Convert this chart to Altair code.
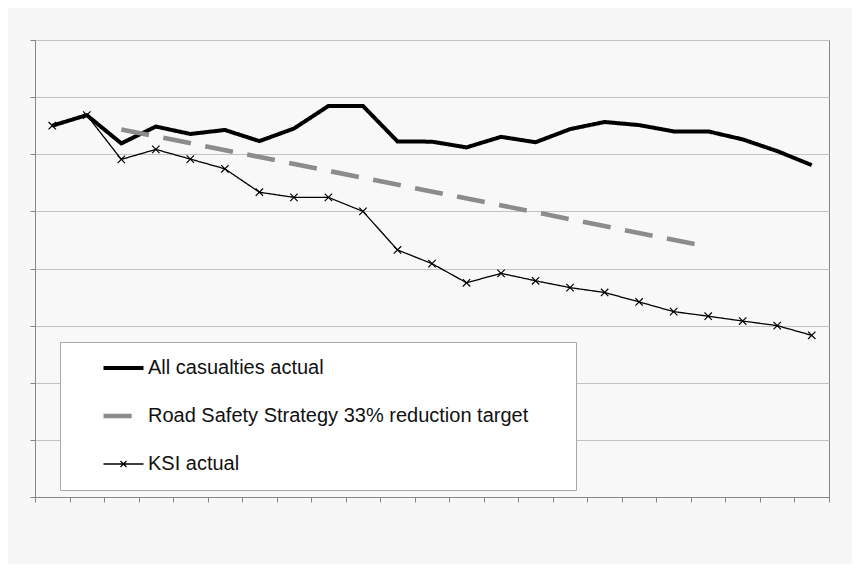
import altair as alt
import pandas as pd

periods = list(range(1, 24))
all_casualties = [130.0, 133.7, 123.8, 129.7, 127.1, 128.5, 124.6, 129.0, 136.9, 136.9,
                  124.5, 124.4, 122.4, 126.1, 124.2, 128.8, 131.3, 130.2, 128.0, 128.0,
                  125.2, 121.1, 116.2]
ksi_actual = [130.0, 133.7, 118.2, 121.7, 118.3, 114.9, 106.7, 104.9, 104.9, 100.0,
              86.5, 81.7, 75.0, 78.3, 75.7, 73.3, 71.6, 68.3, 64.9, 63.3,
              61.6, 60.0, 56.6]
target_periods = [3, 20]
target_values = [128.7, 87.6]

series_names = ["All casualties actual",
                "Road Safety Strategy 33% reduction target",
                "KSI actual"]
series_widths = [4, 4.6, 1.3]
x_ticks = [p - 0.5 for p in periods] + [periods[-1] + 0.5]
y_ticks = [0, 20, 40, 60, 80, 100, 120, 140, 160]

rows = []
for p, v in zip(periods, all_casualties):
    rows.append({"series": series_names[0], "period": p, "value": v, "sw": series_widths[0]})
for p, v in zip(periods, ksi_actual):
    rows.append({"series": series_names[2], "period": p, "value": v, "sw": series_widths[2]})
for p, v in zip(target_periods, target_values):
    rows.append({"series": series_names[1], "period": p, "value": v, "sw": series_widths[1]})
df = pd.DataFrame(rows)

ksi_df = pd.DataFrame({"period": periods, "value": ksi_actual})

xpath = "M-1,-1L1,1M-1,1L1,-1"
ksi_legend_path = "M-1,0H1M-0.15,-0.15L0.15,0.15M-0.15,0.15L0.15,-0.15"

sw_expr = ("datum.value === 'KSI actual' ? 1.3 : "
           "(datum.value === 'All casualties actual' ? 4 : 4.6)")
shape_expr = f"datum.value === 'KSI actual' ? '{ksi_legend_path}' : 'stroke'"

pad_right = "\u2800" * 3

leg_props = dict(
    orient="none", legendX=25, legendY=302, direction="vertical",
    fillColor="#ffffff", strokeColor="#a8a8a8", padding=2,
    clipHeight=48, rowPadding=0,
    symbolType={"expr": shape_expr}, symbolSize=1600, symbolOffset=51.5,
    symbolStrokeWidth={"expr": sw_expr},
    labelOffset=14.5, labelFont="Liberation Sans", labelFontSize=20,
    labelColor="#111111", labelLimit=800,
    labelExpr=f"datum.label + '{pad_right}'",
)

x_enc = alt.X("period:Q",
              scale=alt.Scale(domain=[0.5, 23.5], nice=False, zero=False),
              axis=alt.Axis(values=x_ticks, labels=False, grid=False, ticks=True,
                            tickSize=5, tickCount=24, title=None))
y_enc = alt.Y("value:Q",
              scale=alt.Scale(domain=[0, 160], nice=False),
              axis=alt.Axis(values=y_ticks, labels=False, grid=True, ticks=True,
                            tickSize=5, title=None))

lines = alt.Chart(df).mark_line().encode(
    x=x_enc,
    y=y_enc,
    color=alt.Color("series:N", title=None,
                    scale=alt.Scale(domain=series_names,
                                    range=["#000000", "#8c8c8c", "#000000"]),
                    legend=alt.Legend(**leg_props)),
    strokeDash=alt.StrokeDash("series:N", title=None,
                              scale=alt.Scale(domain=series_names,
                                              range=[[1, 0], [28.2, 14.6], [1, 0]]),
                              legend=alt.Legend(**leg_props)),
    strokeWidth=alt.StrokeWidth("sw:Q", scale=None),
    order=alt.Order("period:Q"),
)

points = alt.Chart(ksi_df).mark_point(filled=False, color="#000000", strokeWidth=1.2,
                                      size=55, opacity=1, shape=xpath).encode(
    x=x_enc,
    y=y_enc,
)

chart = alt.layer(lines, points).properties(
    width=794, height=457,
    background="#f7f7f7",
    padding={"left": 27, "top": 32, "right": 23, "bottom": 67},
    autosize=alt.AutoSizeParams(type="none"),
).configure_view(
    stroke="#868686", strokeWidth=1, fill="#f8f8f8"
).configure_axis(
    domainColor="#868686", tickColor="#868686", gridColor="#c2c2c2",
    domainWidth=1, tickWidth=1, gridWidth=1
)

chart.save("out.html", embed_options={"renderer": "svg", "actions": False})
